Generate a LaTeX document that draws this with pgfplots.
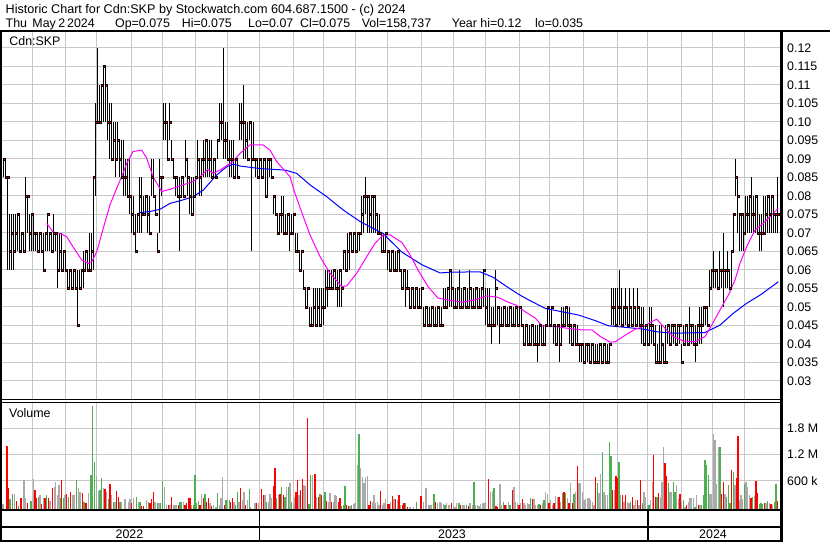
\documentclass[border=0pt]{standalone}
\usepackage{pgfplots}
\pgfplotsset{compat=1.18}
\usepackage{pgfplotstable}
\usepackage{fontspec}
\setmainfont{Liberation Sans}
\definecolor{gridc}{RGB}{200,200,200}
\definecolor{vred}{RGB}{255,0,0}
\definecolor{vgreen}{RGB}{76,175,80}
\definecolor{vgray}{RGB}{170,170,170}
\definecolor{ma1}{RGB}{255,0,255}
\definecolor{ma2}{RGB}{0,0,255}

\pgfplotstableread{
x lo hi cl
3 0.085 0.09 0.09
5 0.085 0.09 0.085
7 0.06 0.085 0.085
9 0.06 0.075 0.065
11 0.06 0.075 0.07
13 0.06 0.075 0.065
15 0.065 0.075 0.07
17 0.065 0.075 0.075
19 0.065 0.075 0.065
21 0.065 0.07 0.07
23 0.065 0.07 0.065
25 0.065 0.085 0.08
27 0.07 0.08 0.08
29 0.065 0.075 0.07
31 0.065 0.075 0.075
33 0.065 0.075 0.07
35 0.065 0.07 0.07
37 0.065 0.07 0.065
39 0.065 0.07 0.07
41 0.065 0.07 0.065
43 0.06 0.07 0.06
45 0.065 0.07 0.07
47 0.065 0.075 0.075
49 0.065 0.07 0.07
51 0.065 0.07 0.065
53 0.065 0.075 0.07
55 0.065 0.07 0.07
57 0.055 0.07 0.06
59 0.06 0.07 0.065
61 0.06 0.07 0.06
63 0.06 0.065 0.065
65 0.06 0.065 0.06
67 0.055 0.06 0.055
69 0.055 0.06 0.06
71 0.055 0.06 0.055
73 0.055 0.06 0.06
75 0.055 0.06 0.055
77 0.045 0.06 0.045
79 0.055 0.06 0.055
81 0.055 0.06 0.06
83 0.055 0.065 0.06
85 0.06 0.065 0.065
87 0.06 0.065 0.06
89 0.06 0.07 0.06
91 0.06 0.07 0.065
93 0.06 0.085 0.085
95 0.08 0.105 0.10
97 0.10 0.12 0.10
99 0.10 0.11 0.10
101 0.10 0.11 0.11
103 0.10 0.115 0.115
105 0.10 0.115 0.11
107 0.095 0.11 0.10
109 0.09 0.105 0.10
111 0.09 0.105 0.09
113 0.09 0.10 0.095
115 0.085 0.10 0.09
117 0.09 0.10 0.095
119 0.085 0.095 0.09
121 0.085 0.095 0.085
123 0.08 0.095 0.085
125 0.08 0.09 0.085
127 0.08 0.09 0.08
129 0.075 0.09 0.08
131 0.07 0.08 0.075
133 0.07 0.08 0.07
135 0.065 0.075 0.065
137 0.07 0.075 0.075
139 0.07 0.085 0.08
141 0.07 0.085 0.075
143 0.075 0.08 0.075
145 0.075 0.08 0.08
147 0.07 0.08 0.075
149 0.07 0.08 0.07
151 0.08 0.09 0.085
153 0.08 0.09 0.08
155 0.075 0.08 0.075
157 0.065 0.07 0.065
159 0.07 0.09 0.085
161 0.08 0.085 0.085
163 0.095 0.105 0.10
165 0.095 0.105 0.10
167 0.09 0.10 0.09
169 0.095 0.105 0.10
171 0.09 0.095 0.09
173 0.085 0.09 0.085
175 0.08 0.085 0.085
177 0.08 0.085 0.08
179 0.065 0.085 0.08
181 0.08 0.085 0.085
183 0.08 0.085 0.08
185 0.085 0.095 0.09
187 0.08 0.09 0.085
189 0.075 0.085 0.08
191 0.075 0.085 0.075
193 0.075 0.085 0.08
195 0.08 0.085 0.085
197 0.085 0.095 0.09
199 0.08 0.09 0.085
201 0.08 0.09 0.09
203 0.085 0.095 0.09
205 0.085 0.095 0.095
207 0.085 0.095 0.09
209 0.085 0.095 0.09
211 0.085 0.095 0.085
213 0.085 0.09 0.09
215 0.085 0.09 0.085
217 0.09 0.095 0.095
219 0.095 0.105 0.10
221 0.095 0.105 0.10
223 0.09 0.12 0.095
225 0.09 0.10 0.095
227 0.09 0.10 0.09
229 0.085 0.095 0.09
231 0.085 0.095 0.09
233 0.085 0.095 0.085
235 0.085 0.09 0.09
237 0.085 0.09 0.085
239 0.095 0.105 0.10
241 0.095 0.105 0.10
243 0.09 0.11 0.10
245 0.09 0.10 0.095
247 0.09 0.10 0.09
249 0.095 0.10 0.10
251 0.065 0.10 0.09
253 0.09 0.10 0.09
255 0.085 0.09 0.09
257 0.085 0.09 0.085
259 0.085 0.09 0.09
261 0.085 0.09 0.085
263 0.085 0.09 0.09
265 0.08 0.09 0.08
267 0.08 0.09 0.09
269 0.085 0.09 0.09
271 0.085 0.09 0.085
273 0.075 0.08 0.08
275 0.075 0.08 0.075
277 0.07 0.075 0.07
279 0.07 0.075 0.075
281 0.07 0.08 0.075
283 0.07 0.08 0.07
285 0.07 0.075 0.07
287 0.07 0.075 0.075
289 0.065 0.075 0.07
291 0.07 0.075 0.07
293 0.07 0.075 0.075
295 0.065 0.07 0.065
297 0.065 0.07 0.065
299 0.06 0.065 0.06
301 0.06 0.065 0.065
303 0.055 0.06 0.055
305 0.05 0.055 0.05
307 0.05 0.055 0.055
309 0.045 0.05 0.045
311 0.045 0.05 0.045
313 0.045 0.055 0.05
315 0.045 0.055 0.045
317 0.045 0.055 0.05
319 0.045 0.055 0.045
321 0.045 0.055 0.05
323 0.045 0.055 0.05
325 0.05 0.06 0.055
327 0.05 0.06 0.055
329 0.055 0.06 0.055
331 0.055 0.06 0.055
333 0.055 0.06 0.06
335 0.055 0.06 0.055
337 0.05 0.06 0.055
339 0.05 0.06 0.06
341 0.05 0.06 0.055
343 0.06 0.065 0.065
345 0.06 0.065 0.06
347 0.06 0.07 0.065
349 0.06 0.07 0.07
351 0.065 0.07 0.065
353 0.065 0.07 0.07
355 0.065 0.07 0.065
357 0.065 0.07 0.07
359 0.065 0.07 0.07
361 0.07 0.08 0.075
363 0.07 0.08 0.08
365 0.075 0.085 0.08
367 0.07 0.08 0.08
369 0.07 0.08 0.075
371 0.07 0.08 0.08
373 0.07 0.08 0.08
375 0.07 0.08 0.075
377 0.07 0.075 0.07
379 0.07 0.075 0.07
381 0.065 0.07 0.065
383 0.065 0.07 0.065
385 0.065 0.07 0.07
387 0.06 0.065 0.065
389 0.06 0.065 0.06
391 0.06 0.065 0.065
393 0.06 0.065 0.06
395 0.06 0.065 0.06
397 0.06 0.065 0.065
399 0.06 0.065 0.06
401 0.055 0.06 0.055
403 0.055 0.06 0.06
405 0.05 0.06 0.055
407 0.055 0.06 0.055
409 0.05 0.055 0.05
411 0.05 0.055 0.055
413 0.05 0.055 0.05
415 0.05 0.055 0.055
417 0.05 0.055 0.05
419 0.05 0.055 0.05
421 0.05 0.055 0.055
423 0.045 0.05 0.045
425 0.045 0.05 0.05
427 0.045 0.05 0.045
429 0.045 0.05 0.045
431 0.045 0.05 0.05
433 0.045 0.05 0.045
435 0.045 0.05 0.045
437 0.045 0.05 0.05
439 0.045 0.05 0.045
441 0.045 0.05 0.045
443 0.05 0.055 0.05
445 0.05 0.055 0.05
447 0.05 0.055 0.055
449 0.05 0.06 0.06
451 0.05 0.06 0.055
453 0.05 0.055 0.05
455 0.05 0.055 0.05
457 0.05 0.055 0.055
459 0.05 0.06 0.05
461 0.05 0.055 0.05
463 0.05 0.055 0.055
465 0.05 0.055 0.05
467 0.05 0.055 0.05
469 0.05 0.06 0.055
471 0.05 0.055 0.05
473 0.05 0.055 0.05
475 0.05 0.055 0.055
477 0.05 0.055 0.05
479 0.05 0.055 0.05
481 0.05 0.055 0.055
483 0.05 0.06 0.06
485 0.045 0.055 0.05
487 0.045 0.055 0.045
489 0.045 0.055 0.045
491 0.04 0.05 0.045
493 0.045 0.05 0.045
495 0.045 0.06 0.055
497 0.045 0.05 0.05
499 0.04 0.05 0.045
501 0.045 0.05 0.045
503 0.045 0.05 0.05
505 0.045 0.05 0.045
507 0.045 0.05 0.045
509 0.045 0.05 0.05
511 0.045 0.05 0.045
513 0.045 0.05 0.045
515 0.045 0.05 0.05
517 0.045 0.05 0.045
519 0.045 0.05 0.05
521 0.045 0.05 0.045
523 0.04 0.045 0.04
525 0.04 0.045 0.045
527 0.04 0.045 0.04
529 0.04 0.045 0.04
531 0.04 0.045 0.045
533 0.04 0.045 0.04
535 0.04 0.045 0.04
537 0.035 0.045 0.04
539 0.04 0.045 0.045
541 0.04 0.045 0.04
543 0.04 0.045 0.04
545 0.04 0.045 0.045
547 0.045 0.05 0.05
549 0.045 0.05 0.045
551 0.045 0.05 0.05
553 0.04 0.045 0.045
555 0.04 0.045 0.04
557 0.04 0.045 0.045
559 0.035 0.045 0.04
561 0.04 0.05 0.045
563 0.045 0.05 0.045
565 0.045 0.05 0.05
567 0.045 0.05 0.045
569 0.04 0.05 0.045
571 0.04 0.045 0.04
573 0.04 0.045 0.045
575 0.04 0.045 0.04
577 0.04 0.045 0.04
579 0.035 0.04 0.04
581 0.035 0.04 0.04
583 0.035 0.04 0.035
585 0.035 0.04 0.04
587 0.035 0.04 0.04
589 0.035 0.04 0.035
591 0.035 0.04 0.04
593 0.035 0.04 0.035
595 0.035 0.04 0.035
597 0.035 0.04 0.035
599 0.035 0.04 0.04
601 0.035 0.04 0.035
603 0.035 0.04 0.04
605 0.035 0.04 0.035
607 0.035 0.04 0.035
609 0.035 0.04 0.04
611 0.045 0.055 0.05
613 0.045 0.055 0.05
615 0.045 0.055 0.045
617 0.045 0.055 0.05
619 0.045 0.06 0.05
621 0.045 0.055 0.045
623 0.045 0.05 0.05
625 0.045 0.055 0.05
627 0.045 0.05 0.045
629 0.045 0.055 0.05
631 0.045 0.05 0.045
633 0.045 0.055 0.05
635 0.045 0.05 0.045
637 0.045 0.055 0.05
639 0.045 0.05 0.045
641 0.04 0.05 0.045
643 0.04 0.05 0.04
645 0.04 0.045 0.045
647 0.04 0.045 0.04
649 0.04 0.05 0.045
651 0.04 0.05 0.045
653 0.04 0.045 0.04
655 0.035 0.045 0.035
657 0.035 0.04 0.035
659 0.035 0.045 0.035
661 0.035 0.045 0.04
663 0.035 0.04 0.035
665 0.035 0.045 0.035
667 0.04 0.045 0.045
669 0.04 0.045 0.04
671 0.04 0.045 0.045
673 0.04 0.045 0.045
675 0.04 0.045 0.04
677 0.04 0.045 0.045
679 0.04 0.045 0.045
681 0.035 0.04 0.035
683 0.04 0.045 0.04
685 0.04 0.045 0.045
687 0.04 0.045 0.04
689 0.04 0.05 0.045
691 0.04 0.045 0.045
693 0.04 0.045 0.04
695 0.035 0.045 0.04
697 0.04 0.045 0.045
699 0.04 0.05 0.045
701 0.04 0.05 0.045
703 0.045 0.05 0.05
705 0.045 0.05 0.05
707 0.045 0.05 0.045
709 0.05 0.06 0.055
711 0.055 0.06 0.06
713 0.055 0.065 0.06
715 0.055 0.06 0.06
717 0.055 0.06 0.055
719 0.055 0.065 0.06
721 0.055 0.06 0.06
723 0.05 0.07 0.06
725 0.055 0.06 0.06
727 0.055 0.065 0.06
729 0.055 0.06 0.055
731 0.055 0.065 0.065
733 0.065 0.075 0.075
735 0.08 0.09 0.085
737 0.07 0.085 0.08
739 0.065 0.075 0.075
741 0.065 0.075 0.075
743 0.065 0.075 0.07
745 0.07 0.08 0.075
747 0.07 0.08 0.075
749 0.07 0.08 0.08
751 0.07 0.085 0.075
753 0.07 0.08 0.075
755 0.07 0.08 0.08
757 0.07 0.08 0.07
759 0.065 0.075 0.07
761 0.065 0.075 0.07
763 0.07 0.08 0.07
765 0.07 0.08 0.075
767 0.07 0.08 0.08
769 0.07 0.08 0.075
771 0.07 0.08 0.08
773 0.07 0.08 0.075
775 0.07 0.075 0.075
777 0.07 0.085 0.075
}\price

\pgfplotstableread{
x v
7 1404
8.7 427
16.7 137
21 198
27.3 84
35 389
36.7 198
41.7 61
45 198
48.3 198
52.3 427
61.7 618
66.7 298
70.7 351
82.3 313
86 84
105 412
110 519
116.7 366
118.3 237
131.7 84
141.7 23
143.3 23
150 84
151.7 183
153.3 336
168.3 46
171.7 237
178.3 46
185 46
186.7 99
188.3 214
190 198
200 46
203.3 198
206.7 122
208.3 198
211.7 23
224.3 46
230.7 122
232.3 198
240.7 427
245.7 46
256.7 84
261.7 412
263.3 275
273.3 481
275 900
280 290
283.3 275
296 351
297.3 618
300.7 389
302.3 641
307.3 2045
315 755
318.3 237
321.7 275
326.7 145
331.7 122
338.3 122
340 198
346.7 46
348.3 23
369 46
370.7 137
380.7 366
387.3 61
389 61
392.3 259
395.7 183
399 275
402.3 46
404 84
407.3 8
421 252
435.7 122
451.7 84
460.7 46
468.3 23
488.3 641
496 23
497.7 8
505 46
512.3 389
519 46
522.3 175
532.3 175
540.7 46
549 84
554 84
559 237
564 351
569 84
572.3 84
577.3 938
595.7 694
612.7 389
616 710
617.3 656
622.3 275
625.7 275
632.3 237
637.3 160
640.7 618
653.7 1190
655.3 237
658.7 313
665 1000
666.7 710
680 298
686.7 46
698.3 46
721.7 298
723.3 565
731.7 847
736.7 656
738 1625
751 214
756 595
757.7 313
764.3 84
771 61
777.7 137
}\vr

\pgfplotstableread{
x v
10 183
12.5 298
18.3 23
31 137
38.3 237
46.7 275
60.7 198
63.3 198
68.3 237
76.7 618
84 107
91 732
92.3 2312
94.3 1038
100 389
101.7 656
108.3 183
113.3 122
120 122
136.7 221
140 122
148.3 122
157.3 99
160.7 84
162.7 595
180 122
181.7 122
193.3 46
195 732
196.7 84
198.3 137
205 298
217.7 328
226 160
229.3 160
235.7 46
237.3 351
249.3 412
266.7 122
276.7 198
281.7 465
285 237
288.3 465
291.7 122
309 69
310.7 732
320 298
325 351
341.7 23
343.3 46
345 481
351.7 46
359 1671
405.7 84
416.7 107
434 298
445 46
459 84
466.7 46
474 565
494 427
503.3 122
510 46
530.7 214
539 61
544 160
562.3 313
565.7 313
574 298
597.3 542
602.3 1251
609.3 1480
611 1167
619 1022
630.7 122
642.3 84
649 46
657 237
668.3 542
673.3 565
675 351
683.3 160
695 8
701.7 46
703.3 275
705 1076
706.7 961
708.3 732
720 1366
726.7 237
728.3 504
730 84
733.3 809
744.3 519
752.7 237
759.3 69
761 84
762.7 69
767.7 137
774.3 122
776 519
}\vg

\pgfplotstableread{
x v
1 84
3 60
14.5 298
24 618
25.5 198
33.5 641
40 275
43.3 198
50 137
54.3 465
55.7 565
57.3 275
59 504
65 275
72.7 275
74.2 275
78.3 427
80 351
88.3 313
96.7 710
98.3 374
103.3 427
106.7 351
111.7 275
115 122
121.7 122
125 183
128.3 122
130 175
133.3 214
138.3 122
146.7 160
155 122
159 84
164.3 450
166.7 46
170 46
173.3 46
175 46
176.7 46
183.3 122
191.7 46
201.7 298
210 84
213.3 46
216 8
219.3 46
221 198
222.7 679
227.7 160
234 122
239 122
242.3 160
244 351
247.3 160
250.7 8
255 84
258.3 84
265 275
268.3 122
270 290
271.7 198
278.3 275
286.7 465
290 557
293.3 99
295 237
299 275
304 504
305.7 488
312.3 732
316.7 237
323.3 252
328.3 122
330 313
333.3 122
335 275
336.7 252
350 23
353.3 61
355 84
357.3 961
360.7 885
362.3 694
364 557
365.7 694
367.3 717
372.3 122
374 275
375.7 84
377.3 107
379 46
382.3 46
384 84
385.7 183
390.7 122
394 183
397.3 160
400.7 46
410 8
413.3 8
423.3 122
426 427
428.3 46
430 46
431.7 46
437.3 84
440 107
441.7 84
443.3 61
446.7 84
449 46
453.3 23
455 8
456.7 84
462.3 46
464 46
470 84
472.7 46
475.7 46
477.3 46
479 31
480.7 61
482.3 84
484 84
485.7 122
490.7 351
492.3 366
500 519
501.7 46
506.7 46
508.3 122
514 465
515.7 122
517.3 84
520.7 84
524 84
525.7 46
527.3 84
529 61
534 183
535.7 46
537.3 46
542.3 84
545.7 336
547.3 290
550.7 160
552.3 46
555.7 259
557.3 221
560.7 122
567.3 198
570.7 542
575.7 351
579 557
580.7 542
582.3 351
584 160
585.7 183
587.3 198
589 198
590.7 160
592.3 122
594 46
599 313
600.7 755
604 351
605.7 275
607.3 275
614.3 389
620.7 275
624 122
627.3 122
629 84
634 46
635.7 160
639 46
644 336
645.7 237
647.3 46
650.7 160
652.3 565
660.3 237
662 565
663.3 1366
670 351
671.7 351
676.7 504
678.3 183
681.7 122
685 8
688.3 122
690 198
691.7 198
693.3 214
696.7 275
700 46
710 298
711.7 298
713.3 1663
715 1534
716.7 519
718.3 1381
725 298
735 504
739.3 160
741 275
742.7 183
746 565
747.7 465
749.3 275
754.3 252
766 84
769.3 84
772.7 46
}\vgr

\begin{document}
\begin{tikzpicture}[x=1bp,y=1bp,font=\fontsize{12.4bp}{14bp}\selectfont]
\useasboundingbox (0,0) rectangle (830,543);
\pgfplotsset{
  panel/.style={
    anchor=south west, scale only axis, width=779bp,
    xmin=1, xmax=780,
    xtick={32.3,65.7,96.7,131,162.3,195.7,227.3,259.5,293.3,323.7,355.5,387.5,421.5,453,485.7,519.3,549.5,583.5,617,647.5,681.7,712.3,744.3},
    xticklabels={},
    grid=major, major grid style={draw=gridc, line width=1bp},
    major tick length=0pt, tick style={draw=none},
    axis line style={draw=none},
    yticklabel pos=right,
    yticklabel style={anchor=west, inner sep=0pt, xshift=7bp, font=\fontsize{12.4bp}{14bp}\selectfont},
  }
}
% price panel
\begin{axis}[panel, at={(1bp,143bp)}, height=369bp,
  ymin=0.02486, ymax=0.12459,
  ytick={0.03,0.035,0.04,0.045,0.05,0.055,0.06,0.065,0.07,0.075,0.08,0.085,0.09,0.095,0.10,0.105,0.11,0.115,0.12},
  yticklabels={0.03,0.035,0.04,0.045,0.05,0.055,0.06,0.065,0.07,0.075,0.08,0.085,0.09,0.095,0.10,0.105,0.11,0.115,0.12},
]
\addplot[draw=none, mark=none, error bars/.cd, y dir=plus, y explicit, error mark=none,
  error bar style={draw=black, line width=1.15bp}]
  table[x expr=\thisrow{x}+0.5, y=lo, y error plus expr=\thisrow{hi}-\thisrow{lo}] {\price};
\addplot[only marks, mark=square*, mark size=1bp, mark options={draw=none, fill=vred}]
  table[x expr=\thisrow{x}+1, y=cl] {\price};
\addplot[ma2, line width=1bp] coordinates {(140,0.0755)(150,0.0758)(160,0.0764)(170,0.078)(180,0.0787)(193.3,0.0798)(203.3,0.0816)(216.7,0.0857)(226.7,0.0879)(233.3,0.0886)(240,0.0881)(260,0.0874)(285,0.087)(296.7,0.0861)(310,0.083)(326.7,0.0798)(343.3,0.0762)(360,0.0731)(383.3,0.0698)(402,0.0648)(422,0.0614)(440,0.0592)(450,0.0594)(480,0.0595)(493.3,0.058)(506.7,0.0555)(520,0.0532)(528.7,0.0519)(545.3,0.0496)(562,0.0487)(578.7,0.0478)(595.3,0.0463)(608.7,0.0449)(625.3,0.0445)(644,0.044)(656.7,0.0433)(673.3,0.0429)(705,0.0431)(720,0.0451)(733.3,0.0483)(746.7,0.051)(760,0.0532)(778.3,0.0568)};
\addplot[ma1, line width=1bp] coordinates {(46.7,0.0726)(53.3,0.0702)(60,0.0699)(66.7,0.0690)(71.7,0.0668)(81.7,0.0627)(88.3,0.0618)(91.7,0.0622)(96.7,0.0649)(103.3,0.0713)(110,0.0776)(116.7,0.0821)(121.7,0.0852)(126.7,0.0888)(133,0.092)(141.7,0.0924)(146.7,0.0902)(153,0.0852)(161.7,0.0812)(170,0.0818)(183,0.083)(193,0.0839)(200,0.0852)(208,0.0872)(213,0.0861)(220,0.087)(233,0.0893)(240,0.0915)(250,0.0938)(263,0.0938)(270,0.0924)(276.7,0.0893)(290,0.0852)(295,0.0807)(303.3,0.0744)(310,0.0695)(320,0.0636)(330,0.0591)(341.7,0.0555)(346.7,0.0557)(356.7,0.0591)(366.7,0.0636)(375,0.0672)(383.3,0.0695)(390,0.0695)(402,0.0674)(410,0.0641)(418,0.060)(428,0.0555)(438,0.0524)(448,0.0519)(462,0.0513)(475,0.0519)(487,0.053)(498,0.0526)(508,0.0513)(516,0.0505)(525.3,0.0487)(535.3,0.047)(542,0.0449)(555.3,0.0447)(568.7,0.0442)(582,0.0438)(592,0.0438)(600.3,0.042)(610.3,0.0405)(615.3,0.0406)(625.3,0.0424)(635.3,0.044)(643.7,0.0447)(650,0.0458)(656.7,0.0467)(663.3,0.0447)(673.3,0.042)(683.3,0.0408)(695,0.0406)(705,0.042)(711.7,0.0451)(720,0.0492)(728.3,0.0532)(735,0.0573)(740,0.0618)(746.7,0.0663)(755,0.0708)(763.3,0.0726)(771.7,0.0749)(778.3,0.0767)};
\end{axis}
% volume panel
\begin{axis}[panel, at={(1bp,33bp)}, height=107.5bp,
  ymin=-71, ymax=2391,
  ytick={600,1200,1800}, yticklabels={600 k,1.2 M,1.8 M},
]
\addplot[draw=none, mark=none, error bars/.cd, y dir=plus, y explicit, error mark=none,
  error bar style={draw=vgray, line width=1.5bp}]
  table[x=x, y expr=-71, y error plus expr=\thisrow{v}+71] {\vgr};
\addplot[draw=none, mark=none, error bars/.cd, y dir=plus, y explicit, error mark=none,
  error bar style={draw=vred, line width=1.5bp}]
  table[x=x, y expr=-71, y error plus expr=\thisrow{v}+71] {\vr};
\addplot[draw=none, mark=none, error bars/.cd, y dir=plus, y explicit, error mark=none,
  error bar style={draw=vgreen, line width=1.5bp}]
  table[x=x, y expr=-71, y error plus expr=\thisrow{v}+71] {\vg};
\end{axis}
% frame lines
\fill[black] (0,510.7) rectangle (830,513);
\fill[black] (0,0.7) rectangle (2,513);
\fill[black] (779.5,0.7) rectangle (782.5,513);
\draw[black, line width=1bp] (0,143) -- (781,143);
\draw[black, line width=1bp] (0,140.5) -- (781,140.5);
\fill[black] (0,32) rectangle (781,34);
\fill[black] (0,15) rectangle (781,17);
\fill[black] (0,0.7) rectangle (781,2.7);
\fill[black] (258.5,2) rectangle (260,33);
\fill[black] (647,2) rectangle (648.5,33);
% texts
\node[anchor=base west, inner sep=0pt, font=\fontsize{12.6bp}{14bp}\selectfont] at (5.5,529.7) {Historic Chart for Cdn:SKP by Stockwatch.com 604.687.1500 - (c) 2024};
\node[anchor=base west, inner sep=0pt] at (5.5,515.7) {Thu};
\node[anchor=base west, inner sep=0pt] at (32.3,515.7) {May};
\node[anchor=base west, inner sep=0pt] at (58.3,515.7) {2};
\node[anchor=base west, inner sep=0pt] at (67,515.7) {2024};
\node[anchor=base west, inner sep=0pt] at (115,515.7) {Op=0.075};
\node[anchor=base west, inner sep=0pt] at (181.7,515.7) {Hi=0.075};
\node[anchor=base west, inner sep=0pt] at (248,515.7) {Lo=0.07};
\node[anchor=base west, inner sep=0pt] at (300,515.7) {Cl=0.075};
\node[anchor=base west, inner sep=0pt] at (361.7,515.7) {Vol=158,737};
\node[anchor=base west, inner sep=0pt] at (451.7,515.7) {Year hi=0.12};
\node[anchor=base west, inner sep=0pt] at (535,515.7) {lo=0.035};
\node[anchor=base west, inner sep=0pt] at (9.3,497) {Cdn:SKP};
\node[anchor=base west, inner sep=0pt] at (9,125) {Volume};
\node[anchor=base, inner sep=0pt] at (129.5,4.5) {2022};
\node[anchor=base, inner sep=0pt] at (452,4.5) {2023};
\node[anchor=base, inner sep=0pt] at (713,4.5) {2024};
\end{tikzpicture}
\end{document}
